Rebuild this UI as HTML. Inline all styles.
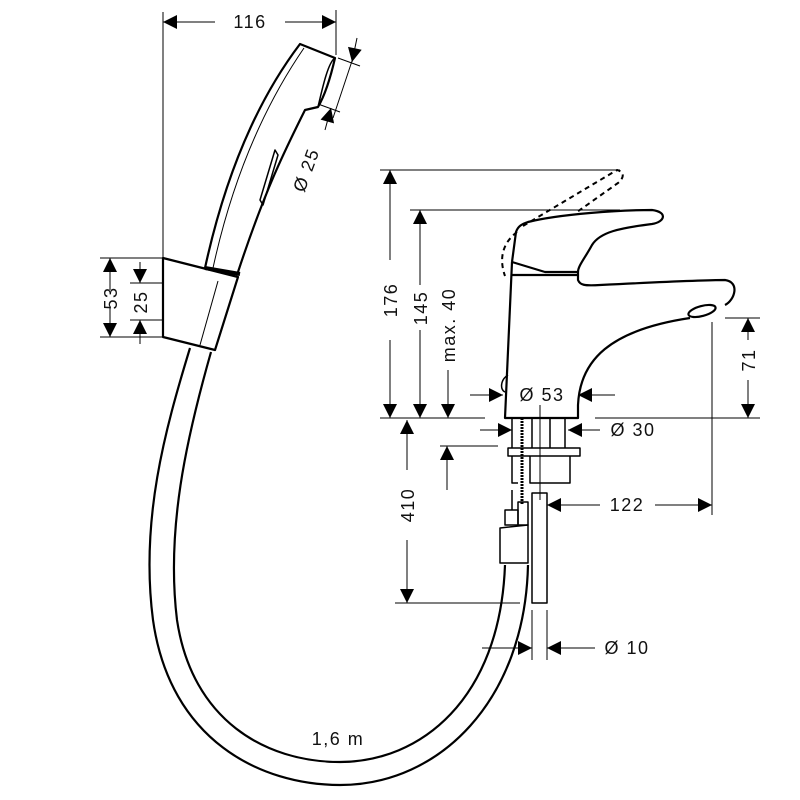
<!DOCTYPE html>
<html><head><meta charset="utf-8"><style>
html,body{margin:0;padding:0;background:#fff}
svg{display:block}
text{font-family:"Liberation Sans",sans-serif;font-size:18px;fill:#111;letter-spacing:1.5px}
</style></head><body>
<svg width="800" height="800" viewBox="0 0 800 800">
<defs>
<marker id="a" viewBox="0 0 10 10" refX="10" refY="5" markerWidth="15" markerHeight="14" markerUnits="userSpaceOnUse" orient="auto"><path d="M0 0L10 5L0 10z" fill="#000"/></marker>
</defs>
<g fill="none" stroke="#000" stroke-width="2.2" stroke-linejoin="round">
<path d="M205 268 C222 190 250 110 300 44 L335 58 C330 80 325 95 318 107 L305 110 C285 150 265 190 238 272"/>
<path d="M213 268 C230 190 258 115 304 48" stroke-width="1"/>
<path d="M335 58 C328 62 322 90 318 107" stroke-width="1.5"/>
<path d="M260 200 L275 150 L278 155 L263 205 Z" stroke-width="1.5"/>
<path d="M205 268 L240 274" stroke-width="4"/>
<path d="M163 258 L238 277 L215 350 L163 337 Z"/>
<path d="M218 281 L200 345" stroke-width="1"/>
<path d="M190 348 C165 430 140 520 153 620 C170 740 260 785 340 785 C440 785 525 700 528 565"/>
<path d="M211 352 C186 440 166 530 177 620 C192 720 265 762 340 762 C420 762 500 700 505 565"/>
<path d="M512 262 L505 418 L578 418 L578 405 C580 360 610 330 690 318"/>
<path d="M512 275 L578 275"/>
<path d="M512 262 L545 272 L578 272"/>
<path d="M512 262 L516 232 C518 226 522 224 528 222 C560 214 620 210 652 210 C668 212 665 222 652 224 C620 228 600 232 592 245 C585 258 578 266 578 272 L578 280 C580 285 584 286 600 285 C660 282 700 280 725 280 C740 282 735 300 725 305"/>
<ellipse cx="702" cy="311" rx="14" ry="5" transform="rotate(-15 702 311)"/>
<path d="M508 375 C500 380 500 390 505 392" stroke-width="1.5"/>
<g stroke-dasharray="5 4" stroke-width="2">
<path d="M523 226 L617 170 C625 172 624 178 618 183 L577 212"/>
<path d="M517 232 C500 245 500 262 505 276"/>
</g>
<g stroke-width="1.5">
<path d="M512 418 L512 448 M532 418 L532 448 M550 418 L550 448 M565 418 L565 448"/>
<rect x="508" y="448" width="72" height="8"/>
<path d="M512 456 L512 483 L518 483 M530 456 L530 483 L570 483 L570 456"/>
<path d="M512 490 L512 510"/>
<rect x="532" y="493" width="15" height="110"/>
<rect x="505" y="510" width="13" height="15"/>
<rect x="518" y="502" width="10" height="23"/>
<path d="M500 528 L528 525 L528 563 L500 563 Z"/>
</g>
<path d="M522 418 L522 505" stroke-width="3" stroke-dasharray="2 1"/>
</g>
<g fill="none" stroke="#000" stroke-width="1">
<path d="M163 12 L163 258 M336 10 L336 55"/>
<path d="M215 22 L163 22" marker-end="url(#a)"/>
<path d="M285 22 L336 22" marker-end="url(#a)"/>
<path d="M355 52 L333 118"/>
<path d="M338 58 L360 66 M318 104 L340 112"/>
<path d="M357 38 L352 62" marker-end="url(#a)"/>
<path d="M325 130 L331 108" marker-end="url(#a)"/>
<path d="M100 258 L163 258 M100 337 L163 337 M130 283 L163 283 M130 320 L163 320"/>
<path d="M110 290 L110 258" marker-end="url(#a)"/><path d="M110 308 L110 337" marker-end="url(#a)"/>
<path d="M140 262 L140 283" marker-end="url(#a)"/><path d="M140 344 L140 320" marker-end="url(#a)"/>
<path d="M380 170 L620 170 M410 210 L620 210 M380 418 L485 418 M595 418 L760 418 M725 318 L760 318"/>
<path d="M390 260 L390 170" marker-end="url(#a)"/><path d="M390 340 L390 418" marker-end="url(#a)"/>
<path d="M420 285 L420 210" marker-end="url(#a)"/><path d="M420 330 L420 418" marker-end="url(#a)"/>
<path d="M448 370 L448 418" marker-end="url(#a)"/>
<path d="M748 340 L748 318" marker-end="url(#a)"/><path d="M748 380 L748 418" marker-end="url(#a)"/>
<path d="M470 395 L503 395" marker-end="url(#a)"/><path d="M615 395 L578 395" marker-end="url(#a)"/>
<path d="M540 405 L540 500"/>
<path d="M480 430 L512 430" marker-end="url(#a)"/><path d="M600 430 L568 430" marker-end="url(#a)"/>
<path d="M407 470 L407 420" marker-end="url(#a)"/><path d="M407 540 L407 603" marker-end="url(#a)"/>
<path d="M395 603 L520 603"/>
<path d="M440 446 L498 446"/><path d="M447 490 L447 446" marker-end="url(#a)"/>
<path d="M712 322 L712 515"/>
<path d="M600 505 L547 505" marker-end="url(#a)"/><path d="M655 505 L712 505" marker-end="url(#a)"/>
<path d="M532 610 L532 660 M547 610 L547 660"/>
<path d="M482 648 L532 648" marker-end="url(#a)"/><path d="M595 648 L547 648" marker-end="url(#a)"/>
</g>
<text x="250" y="28" text-anchor="middle">116</text>
<text transform="translate(312 172) rotate(-70)" text-anchor="middle">Ø 25</text>
<text transform="translate(117 298) rotate(-90)" text-anchor="middle">53</text>
<text transform="translate(147 302) rotate(-90)" text-anchor="middle">25</text>
<text transform="translate(397 300) rotate(-90)" text-anchor="middle">176</text>
<text transform="translate(427 308) rotate(-90)" text-anchor="middle">145</text>
<text transform="translate(455 325) rotate(-90)" text-anchor="middle">max. 40</text>
<text transform="translate(755 360) rotate(-90)" text-anchor="middle">71</text>
<text transform="translate(414 505) rotate(-90)" text-anchor="middle">410</text>
<text x="542" y="401" text-anchor="middle">Ø 53</text>
<text x="633" y="436" text-anchor="middle">Ø 30</text>
<text x="627" y="511" text-anchor="middle">122</text>
<text x="627" y="654" text-anchor="middle">Ø 10</text>
<text x="338" y="745" text-anchor="middle">1,6 m</text>
</svg>
</body></html>
